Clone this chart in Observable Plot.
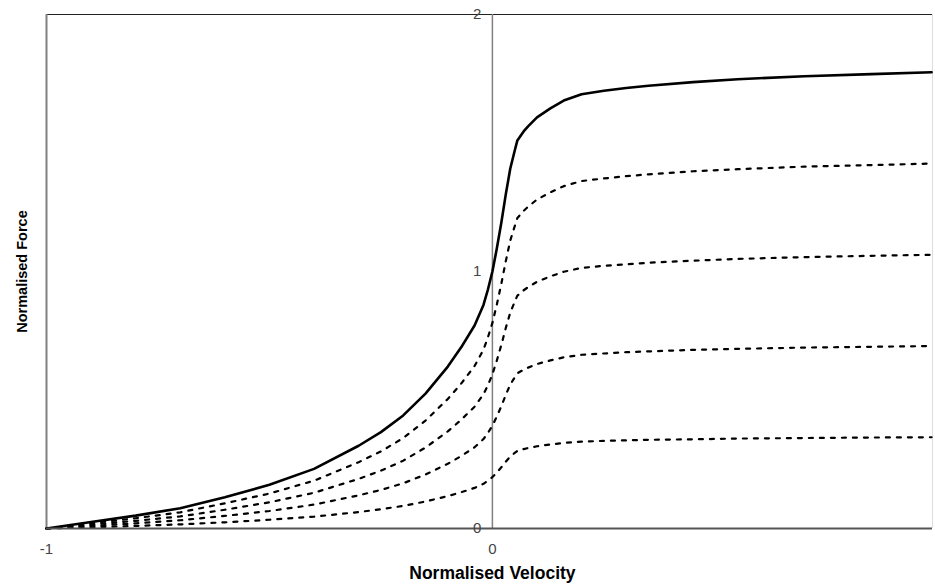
<!DOCTYPE html>
<html>
<head>
<meta charset="utf-8">
<script src="https://cdn.jsdelivr.net/npm/d3@7"></script>
<script src="https://cdn.jsdelivr.net/npm/@observablehq/plot@0.6"></script>
<style>
  html, body { margin: 0; padding: 0; background: #fff; }
  #chart svg { display: block; }
</style>
</head>
<body>
<div id="chart"></div>
<script>
// Normalised velocity sample points
const velocity = [-1, -0.9, -0.8, -0.7, -0.6, -0.5, -0.4, -0.3, -0.25, -0.2, -0.15, -0.1, -0.07, -0.04, -0.02, -0.01, 0, 0.01, 0.02, 0.03, 0.04, 0.05, 0.056, 0.07, 0.08, 0.1, 0.13, 0.16, 0.2, 0.25, 0.3, 0.35, 0.45, 0.55, 0.7, 0.85, 0.985];
// Normalised force, full activation (solid line)
const force100 = [0, 0.025, 0.05, 0.079, 0.122, 0.17, 0.232, 0.322, 0.375, 0.44, 0.525, 0.63, 0.705, 0.79, 0.87, 0.93, 1.0, 1.09, 1.19, 1.30, 1.40, 1.47, 1.51, 1.545, 1.565, 1.60, 1.635, 1.665, 1.69, 1.703, 1.714, 1.723, 1.737, 1.748, 1.76, 1.768, 1.775];
// Dotted lines (partial activations)
const force80 = [0, 0.02, 0.04, 0.063, 0.098, 0.136, 0.186, 0.258, 0.3, 0.352, 0.42, 0.504, 0.564, 0.632, 0.696, 0.744, 0.8, 0.872, 0.952, 1.04, 1.12, 1.176, 1.208, 1.236, 1.252, 1.28, 1.308, 1.332, 1.352, 1.362, 1.371, 1.378, 1.39, 1.398, 1.408, 1.414, 1.42];
const force60 = [0, 0.015, 0.03, 0.047, 0.073, 0.102, 0.139, 0.193, 0.225, 0.264, 0.315, 0.378, 0.423, 0.474, 0.522, 0.558, 0.6, 0.654, 0.714, 0.78, 0.84, 0.882, 0.906, 0.927, 0.939, 0.96, 0.981, 0.999, 1.014, 1.022, 1.028, 1.034, 1.042, 1.049, 1.056, 1.061, 1.065];
const force40 = [0, 0.01, 0.02, 0.032, 0.049, 0.068, 0.093, 0.129, 0.15, 0.176, 0.21, 0.252, 0.282, 0.316, 0.348, 0.372, 0.4, 0.436, 0.476, 0.52, 0.56, 0.588, 0.604, 0.618, 0.626, 0.64, 0.654, 0.666, 0.676, 0.681, 0.686, 0.689, 0.695, 0.699, 0.704, 0.707, 0.71];
const force20 = [0, 0.005, 0.01, 0.016, 0.024, 0.034, 0.046, 0.064, 0.075, 0.088, 0.105, 0.126, 0.141, 0.158, 0.174, 0.186, 0.2, 0.218, 0.238, 0.26, 0.28, 0.294, 0.302, 0.309, 0.313, 0.32, 0.327, 0.333, 0.338, 0.341, 0.343, 0.345, 0.347, 0.35, 0.352, 0.354, 0.355];

const xTicks = [-1, 0];
const yTicks = [0, 1, 2];
const xLabel = "Normalised Velocity";
const yLabel = "Normalised Force";

const rows = (arr) => velocity.map((v, i) => ({v, f: arr[i]}));
const dotted = [force80, force60, force40, force20];

const chart = Plot.plot({
  width: 935,
  height: 587,
  marginLeft: 46,
  marginRight: 3,
  marginTop: 14,
  marginBottom: 59,
  style: {fontFamily: "'Liberation Sans', Arial, sans-serif", background: "#fff"},
  x: {domain: [-1, 0.987], axis: null},
  y: {domain: [0, 2], axis: null},
  marks: [
    Plot.ruleY([2], {stroke: "#222", strokeWidth: 1}),
    Plot.ruleX([-1], {stroke: "#808080", strokeWidth: 2}),
    Plot.ruleX([0.987], {stroke: "#ddd", strokeWidth: 1}),
    Plot.ruleX([0], {stroke: "#808080", strokeWidth: 1.5}),
    ...dotted.map(arr => Plot.line(rows(arr), {x: "v", y: "f", stroke: "#000", strokeWidth: 2.2, strokeDasharray: "4,7", curve: "linear"})),
    Plot.line(rows(force100), {x: "v", y: "f", stroke: "#000", strokeWidth: 2.6, curve: "linear"}),
    Plot.ruleY([0], {stroke: "#555", strokeWidth: 2}),
    Plot.text(yTicks, {x: () => 0, y: d => d, text: d => String(d), textAnchor: "end", dx: -11, fontSize: 15, fill: "#444"}),
    Plot.text(xTicks, {x: d => d, frameAnchor: "bottom", dy: 25, text: d => String(d), fontSize: 15, fill: "#444"}),
    Plot.text([{v: 0, t: xLabel}], {x: "v", text: "t", frameAnchor: "bottom", dy: 50, fontSize: 17.5, fontWeight: "bold", fill: "#000"}),
    Plot.text([yLabel], {text: d => d, frameAnchor: "left", textAnchor: "middle", dx: -24, rotate: -90, fontSize: 14.5, fontWeight: "bold", fill: "#000"})
  ]
});
document.getElementById("chart").appendChild(chart);
</script>
</body>
</html>
